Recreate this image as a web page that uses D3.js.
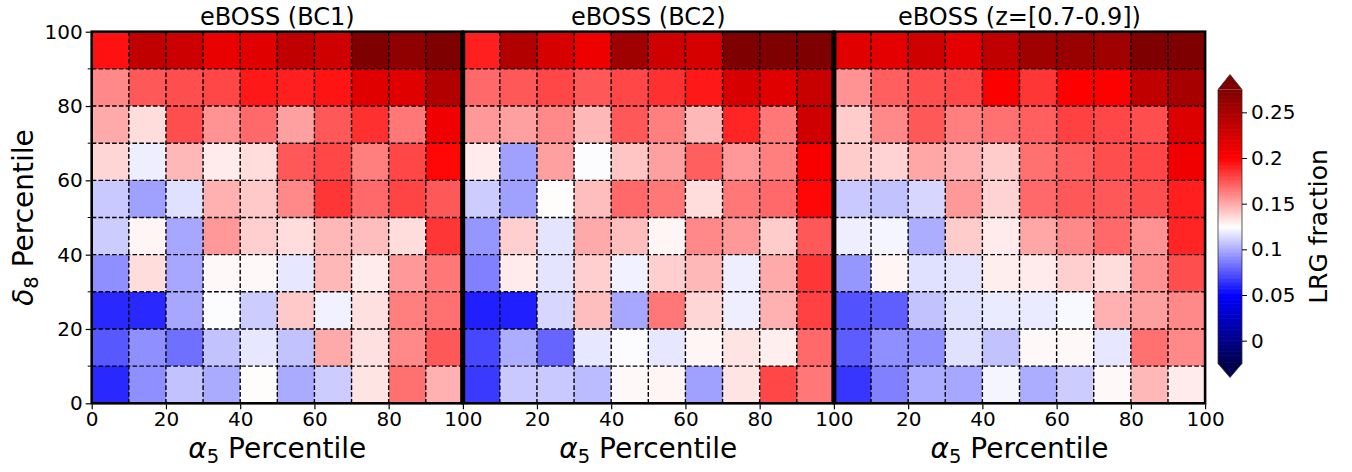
<!DOCTYPE html>
<html>
<head>
<meta charset="utf-8">
<script src="https://cdn.jsdelivr.net/npm/d3@7"></script>
<style>
  body { margin: 0; background: #fff; }
  text { font-family: "DejaVu Sans", sans-serif; fill: #000; }
</style>
</head>
<body>
<svg id="chart" width="1352" height="472"></svg>
<script>
// LRG fraction per cell, rows from delta8 90-100 (top) down to 0-10 (bottom),
// columns alpha5 0-10 ... 90-100
const bc1 = [
  [0.195,0.237,0.230,0.213,0.218,0.237,0.228,0.278,0.265,0.275],
  [0.160,0.174,0.177,0.179,0.193,0.191,0.194,0.218,0.218,0.245],
  [0.150,0.135,0.177,0.157,0.169,0.153,0.174,0.186,0.165,0.209],
  [0.137,0.120,0.146,0.131,0.135,0.174,0.179,0.163,0.179,0.198],
  [0.109,0.097,0.116,0.148,0.141,0.160,0.184,0.169,0.180,0.174],
  [0.110,0.128,0.099,0.155,0.139,0.135,0.146,0.144,0.135,0.184],
  [0.092,0.135,0.099,0.127,0.127,0.118,0.146,0.131,0.155,0.165],
  [0.062,0.062,0.099,0.124,0.110,0.141,0.121,0.134,0.163,0.167],
  [0.076,0.092,0.083,0.107,0.118,0.107,0.150,0.134,0.160,0.174],
  [0.062,0.092,0.107,0.100,0.126,0.100,0.110,0.133,0.167,0.148]
];
const bc2 = [
  [0.191,0.245,0.224,0.210,0.256,0.228,0.224,0.280,0.275,0.275],
  [0.169,0.174,0.179,0.174,0.179,0.186,0.193,0.224,0.218,0.233],
  [0.155,0.153,0.160,0.146,0.174,0.163,0.146,0.189,0.165,0.228],
  [0.131,0.097,0.153,0.124,0.142,0.153,0.172,0.155,0.163,0.204],
  [0.110,0.097,0.126,0.144,0.169,0.165,0.135,0.165,0.169,0.198],
  [0.094,0.139,0.117,0.150,0.144,0.128,0.160,0.155,0.140,0.174],
  [0.088,0.131,0.117,0.139,0.121,0.139,0.146,0.120,0.150,0.184],
  [0.059,0.059,0.113,0.144,0.099,0.165,0.137,0.120,0.148,0.181],
  [0.071,0.101,0.080,0.118,0.124,0.118,0.128,0.133,0.130,0.169],
  [0.067,0.109,0.109,0.105,0.127,0.128,0.097,0.133,0.179,0.165]
];
const bcz = [
  [0.218,0.216,0.228,0.216,0.237,0.256,0.260,0.256,0.275,0.280],
  [0.157,0.172,0.177,0.179,0.202,0.184,0.200,0.201,0.237,0.252],
  [0.140,0.160,0.174,0.163,0.167,0.172,0.181,0.179,0.177,0.220],
  [0.140,0.138,0.151,0.148,0.140,0.167,0.172,0.177,0.179,0.209],
  [0.109,0.107,0.113,0.155,0.138,0.169,0.174,0.174,0.177,0.191],
  [0.120,0.122,0.101,0.140,0.131,0.151,0.160,0.169,0.157,0.189],
  [0.094,0.128,0.116,0.117,0.130,0.131,0.139,0.135,0.157,0.177],
  [0.074,0.078,0.107,0.116,0.119,0.119,0.123,0.148,0.153,0.160],
  [0.077,0.092,0.092,0.116,0.107,0.127,0.127,0.118,0.167,0.160],
  [0.066,0.088,0.101,0.099,0.122,0.101,0.110,0.127,0.146,0.131]
];
const titles = ["eBOSS (BC1)", "eBOSS (BC2)", "eBOSS (z=[0.7-0.9])"];
const panels = [bc1, bc2, bcz];
const xTicks = [0, 20, 40, 60, 80, 100];
const yTicks = [0, 20, 40, 60, 80, 100];
const cbTicks = [0, 0.05, 0.1, 0.15, 0.2, 0.25];

const svg = d3.select("#chart");

const plotTop = 31.7, plotBottom = 403.3;
const panelLeft = [91.7, 462.7, 833.9];
const panelW = 371.2;

const vmin = -0.025, vmax = 0.275;
// matplotlib "seismic"
const color = d3.scaleLinear()
  .domain([vmin, vmin + 0.075, 0.125, vmax - 0.075, vmax])
  .range(["#00004c", "#0000ff", "#ffffff", "#ff0000", "#7f0000"])
  .clamp(true);

const y = d3.scaleLinear().domain([0, 100]).range([plotBottom, plotTop]);

panels.forEach((rows, p) => {
  const x = d3.scaleLinear().domain([0, 100]).range([panelLeft[p], panelLeft[p] + panelW]);
  const g = svg.append("g");

  const cells = [];
  rows.forEach((row, r) => row.forEach((v, c) => cells.push({ a: c * 10, d: (9 - r) * 10, v })));

  g.selectAll("rect.cell")
    .data(cells)
    .join("rect")
    .attr("class", "cell")
    .attr("x", d => x(d.a))
    .attr("y", d => y(d.d + 10))
    .attr("width", x(10) - x(0) + 0.5)
    .attr("height", y(0) - y(10) + 0.5)
    .attr("fill", d => color(d.v))
    .attr("shape-rendering", "crispEdges");

  // dashed cell grid
  const grid = d3.range(10, 100, 10);
  g.selectAll("line.gv").data(grid).join("line")
    .attr("x1", d => x(d)).attr("x2", d => x(d))
    .attr("y1", plotTop).attr("y2", plotBottom)
    .attr("stroke", "#000").attr("stroke-width", 1.4).attr("stroke-dasharray", "4.6,2.2");
  g.selectAll("line.gh").data(grid).join("line")
    .attr("x1", x(0)).attr("x2", x(100))
    .attr("y1", d => y(d)).attr("y2", d => y(d))
    .attr("stroke", "#000").attr("stroke-width", 1.4).attr("stroke-dasharray", "4.6,2.2");

  // x axis
  const xa = g.append("g")
    .attr("transform", `translate(0,${plotBottom + 1})`)
    .call(d3.axisBottom(x).tickValues(p === 0 ? xTicks : xTicks.slice(1)).tickSize(5).tickPadding(3))
    .call(a => a.select(".domain").remove());
  xa.selectAll("text").style("font-size", "20px").style("font-family", "DejaVu Sans");
  xa.selectAll("line").attr("stroke-width", 1.2);

  if (p === 0) {
    const ya = g.append("g")
      .attr("transform", `translate(${x(0) - 1},0)`)
      .call(d3.axisLeft(y).tickValues(yTicks).tickSize(5).tickPadding(3))
      .call(a => a.select(".domain").remove());
    ya.selectAll("text").style("font-size", "20px").style("font-family", "DejaVu Sans");
    ya.selectAll("line").attr("stroke-width", 1.2);
    g.selectAll("line.minor").data(d3.range(10, 100, 20)).join("line")
      .attr("x1", x(0) - 1).attr("x2", x(0) - 4)
      .attr("y1", d => y(d)).attr("y2", d => y(d))
      .attr("stroke", "#000").attr("stroke-width", 1);
  }

  // frame
  g.append("rect")
    .attr("x", x(0)).attr("y", plotTop)
    .attr("width", panelW).attr("height", plotBottom - plotTop)
    .attr("fill", "none").attr("stroke", "#000").attr("stroke-width", 2.6);

  g.append("text")
    .attr("x", x(50)).attr("y", 25)
    .attr("text-anchor", "middle")
    .style("font-size", "24px")
    .text(titles[p]);

  const xl = g.append("text")
    .attr("x", x(50)).attr("y", 458)
    .attr("text-anchor", "middle")
    .style("font-size", "28px");
  xl.append("tspan").style("font-style", "italic").text("α");
  xl.append("tspan").attr("dy", 5).style("font-size", "19.5px").text("5");
  xl.append("tspan").attr("dy", -5).text(" Percentile");
});

// thick separators between panels
svg.selectAll("line.sep").data(panelLeft.slice(1)).join("line")
  .attr("x1", d => d).attr("x2", d => d)
  .attr("y1", plotTop).attr("y2", plotBottom)
  .attr("stroke", "#000").attr("stroke-width", 5);

// y label
const yl = svg.append("text")
  .attr("transform", `translate(33,${(plotTop + plotBottom) / 2}) rotate(-90)`)
  .attr("text-anchor", "middle")
  .style("font-size", "28px");
yl.append("tspan").style("font-style", "italic").text("δ");
yl.append("tspan").attr("dy", 5).style("font-size", "19.5px").text("8");
yl.append("tspan").attr("dy", -5).text(" Percentile");

// colorbar
const cbX = 1218, cbW = 24, cbTop = 89.5, cbBot = 363.5;
const cy = d3.scaleLinear().domain([vmin, vmax]).range([cbBot, cbTop]);
const cb = svg.append("g");
const steps = d3.range(0, 200);
cb.selectAll("rect").data(steps).join("rect")
  .attr("x", cbX).attr("width", cbW)
  .attr("y", i => cy(vmin + (i + 1) * (vmax - vmin) / 200))
  .attr("height", (cbBot - cbTop) / 200 + 0.6)
  .attr("fill", i => color(vmin + (i + 0.5) * (vmax - vmin) / 200));
cb.append("path")
  .attr("d", `M${cbX},${cbTop} L${cbX + cbW / 2},${cbTop - 15} L${cbX + cbW},${cbTop} Z`)
  .attr("fill", color(vmax));
cb.append("path")
  .attr("d", `M${cbX},${cbBot} L${cbX + cbW / 2},${cbBot + 14} L${cbX + cbW},${cbBot} Z`)
  .attr("fill", color(vmin));
cb.append("path")
  .attr("d", `M${cbX},${cbTop} L${cbX + cbW / 2},${cbTop - 15} L${cbX + cbW},${cbTop} L${cbX + cbW},${cbBot} L${cbX + cbW / 2},${cbBot + 14} L${cbX},${cbBot} Z`)
  .attr("fill", "none").attr("stroke", "#333").attr("stroke-width", 0.8);
const cba = cb.append("g")
  .attr("transform", `translate(${cbX + cbW},0)`)
  .call(d3.axisRight(cy).tickValues(cbTicks).tickSize(5).tickPadding(4).tickFormat(d => String(+d.toFixed(2))))
  .call(a => a.select(".domain").remove());
cba.selectAll("text").style("font-size", "20px").style("font-family", "DejaVu Sans");
cba.selectAll("line").attr("stroke-width", 1);

svg.append("text")
  .attr("transform", `translate(1327,${(cbTop + cbBot) / 2}) rotate(-90)`)
  .attr("text-anchor", "middle")
  .style("font-size", "25px")
  .text("LRG fraction");
</script>
</body>
</html>
